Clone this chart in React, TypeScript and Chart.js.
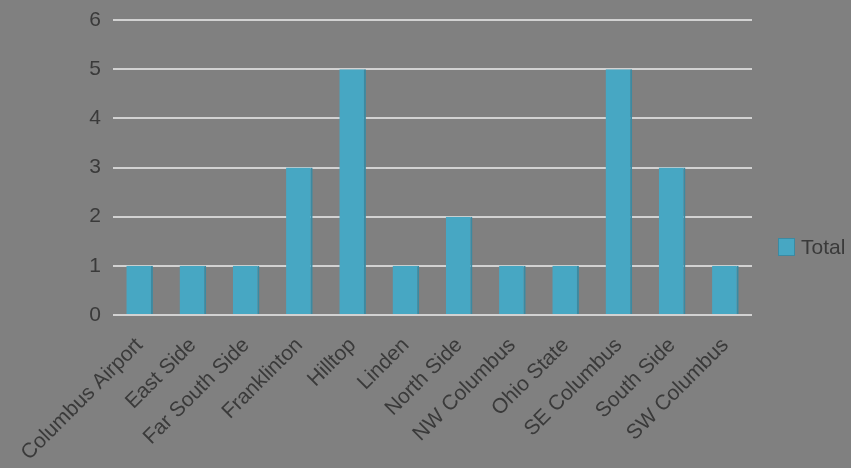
import React, { useEffect, useRef } from "react";
import { Chart, registerables } from "chart.js";

Chart.register(...registerables);

const categories = [
  "Columbus Airport",
  "East Side",
  "Far South Side",
  "Franklinton",
  "Hilltop",
  "Linden",
  "North Side",
  "NW Columbus",
  "Ohio State",
  "SE Columbus",
  "South Side",
  "SW Columbus",
];
const totalValues = [1, 1, 1, 3, 5, 1, 2, 1, 1, 5, 3, 1];
const seriesName = "Total";
const yTicks = [0, 1, 2, 3, 4, 5, 6];

const BG = "#808080";
const BAR = "#47a7c3";
const BAR_EDGE = "#3b8aa2";
const TEXT = "#3a3a3a";
const GRID = "#d2d2d2";
const FONT = "'Liberation Sans', Arial, sans-serif";
const FONT_SIZE = 21;

export default function App() {
  const ref = useRef<HTMLCanvasElement | null>(null);

  useEffect(() => {
    document.body.style.margin = "0";
    const canvas = ref.current;
    if (!canvas) return;
    const chart = new Chart(canvas, {
      type: "bar",
      data: {
        labels: categories,
        datasets: [
          {
            label: seriesName,
            data: totalValues,
            backgroundColor: BAR,
            borderColor: BAR_EDGE,
            borderWidth: { top: 0, left: 0, bottom: 0, right: 2 },
            borderSkipped: false,
            categoryPercentage: 1,
            barPercentage: 0.5,
          },
        ],
      },
      options: {
        animation: false,
        responsive: false,
        maintainAspectRatio: false,
        layout: { padding: { top: 20, right: 99, bottom: 0, left: 0 } },
        plugins: {
          legend: { display: false },
          tooltip: { enabled: false },
        },
        scales: {
          x: {
            grid: { display: false, drawTicks: false },
            border: { display: false },
            ticks: {
              color: TEXT,
              font: { family: FONT, size: FONT_SIZE },
              maxRotation: 45,
              minRotation: 45,
              autoSkip: false,
              padding: 18,
            },
            afterFit: (scale: any) => {
              scale.height = 153;
            },
          },
          y: {
            min: yTicks[0],
            max: yTicks[yTicks.length - 1],
            grid: { color: GRID, lineWidth: 2, drawTicks: false },
            border: { display: false },
            ticks: {
              stepSize: 1,
              color: TEXT,
              font: { family: FONT, size: FONT_SIZE },
              padding: 12,
            },
            afterFit: (scale: any) => {
              scale.width = 113;
              scale.paddingTop = 0;
              scale.paddingBottom = 0;
            },
          },
        },
      },
    });
    return () => chart.destroy();
  }, []);

  return (
    <div
      style={{
        position: "relative",
        width: 851,
        height: 468,
        background: BG,
        overflow: "hidden",
      }}
    >
      <canvas ref={ref} width={851} height={468} style={{ display: "block" }} />
      <div
        style={{
          position: "absolute",
          left: 778,
          top: 234,
          height: 26,
          display: "flex",
          alignItems: "center",
          fontFamily: FONT,
          fontSize: FONT_SIZE,
          color: TEXT,
          whiteSpace: "nowrap",
        }}
      >
        <span
          style={{
            display: "inline-block",
            width: 15,
            height: 16,
            background: BAR,
            border: `1px solid ${BAR_EDGE}`,
            marginRight: 6,
          }}
        />
        <span>{seriesName}</span>
      </div>
    </div>
  );
}
